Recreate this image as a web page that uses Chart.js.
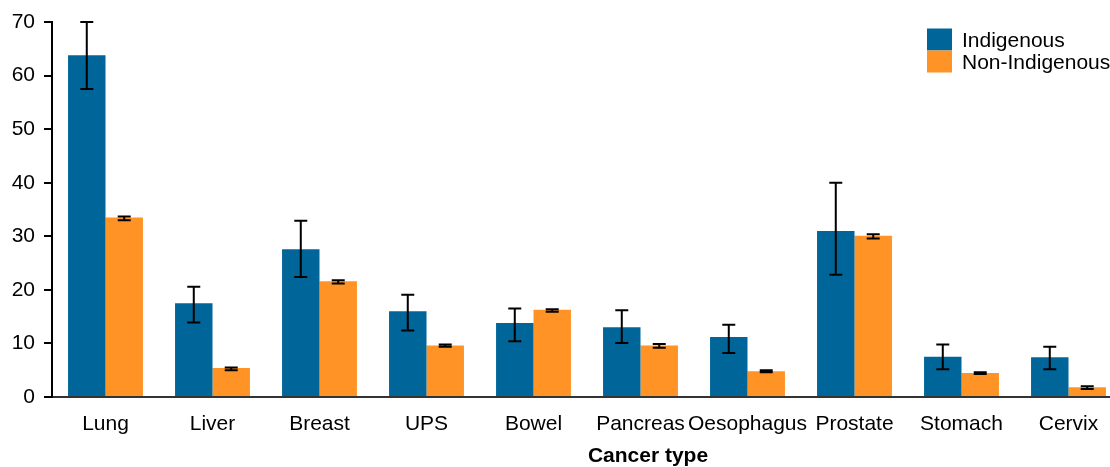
<!DOCTYPE html>
<html>
<head>
<meta charset="utf-8">
<script src="https://cdn.jsdelivr.net/npm/chart.js@4"></script>
<style>
  html, body { margin: 0; padding: 0; overflow: hidden; background: #fff; }
  #wrap { width: 1125px; height: 467px; position: relative; }
</style>
</head>
<body>
<div id="wrap"><canvas id="c"></canvas></div>
<script>
const categories = ['Lung','Liver','Breast','UPS','Bowel','Pancreas','Oesophagus','Prostate','Stomach','Cervix'];
const seriesNames = ['Indigenous','Non-Indigenous'];
const indigenous     = [63.8, 17.5, 27.6, 16.0, 13.8, 13.0, 11.2, 31.0, 7.5, 7.4];
const indigenousLow  = [57.5, 13.9, 22.4, 12.4, 10.4, 10.1,  8.2, 22.8, 5.2, 5.2];
const indigenousHigh = [70.0, 20.6, 32.9, 19.1, 16.5, 16.2, 13.5, 40.0, 9.8, 9.4];
const nonIndigenous     = [33.5, 5.4, 21.6, 9.6, 16.3, 9.6, 4.8, 30.1, 4.5, 1.8];
const nonIndigenousLow  = [33.0, 5.0, 21.2, 9.4, 15.9, 9.2, 4.6, 29.6, 4.3, 1.5];
const nonIndigenousHigh = [33.7, 5.5, 21.8, 9.8, 16.4, 9.9, 5.0, 30.4, 4.6, 2.0];
const yTicks = [0, 10, 20, 30, 40, 50, 60, 70];
const xTitle = 'Cancer type';

const FONT = "'Liberation Sans', Arial, sans-serif";
const BLUE = '#006699';
const ORANGE = '#ff9326';

const errorBars = {
  id: 'errorBars',
  afterDatasetsDraw(chart) {
    const ctx = chart.ctx;
    const y = chart.scales.y;
    const ranges = [[indigenousLow, indigenousHigh], [nonIndigenousLow, nonIndigenousHigh]];
    ctx.save();
    ctx.strokeStyle = '#000';
    ctx.lineWidth = 2;
    chart.data.datasets.forEach((ds, di) => {
      const meta = chart.getDatasetMeta(di);
      meta.data.forEach((el, i) => {
        const x = el.x;
        const lo = y.getPixelForValue(ranges[di][0][i]);
        const hi = y.getPixelForValue(ranges[di][1][i]);
        ctx.beginPath();
        ctx.moveTo(x, lo); ctx.lineTo(x, hi);
        ctx.moveTo(x - 6.5, lo); ctx.lineTo(x + 6.5, lo);
        ctx.moveTo(x - 6.5, hi); ctx.lineTo(x + 6.5, hi);
        ctx.stroke();
      });
    });
    ctx.restore();
  }
};

const extras = {
  id: 'extras',
  afterDraw(chart) {
    const ctx = chart.ctx;
    ctx.save();
    const colors = [BLUE, ORANGE];
    ctx.font = '21px ' + FONT;
    ctx.textBaseline = 'middle';
    ctx.textAlign = 'left';
    seriesNames.forEach((name, i) => {
      ctx.fillStyle = colors[i];
      ctx.fillRect(927, 28.5 + i * 22, 25, 22);
      ctx.fillStyle = '#000';
      ctx.fillText(name, 962, 41 + i * 22);
    });
    ctx.font = 'bold 21px ' + FONT;
    ctx.textAlign = 'center';
    ctx.fillText(xTitle, 648, 456);
    ctx.restore();
  }
};

new Chart(document.getElementById('c'), {
  type: 'bar',
  data: {
    labels: categories,
    datasets: [
      { label: seriesNames[0], data: indigenous, backgroundColor: BLUE, categoryPercentage: 0.7, barPercentage: 1.0 },
      { label: seriesNames[1], data: nonIndigenous, backgroundColor: ORANGE, categoryPercentage: 0.7, barPercentage: 1.0 }
    ]
  },
  options: {
    responsive: true,
    maintainAspectRatio: false,
    animation: false,
    events: [],
    layout: { padding: { top: 22, right: 3, left: 0, bottom: 0 } },
    plugins: { legend: { display: false }, tooltip: { enabled: false } },
    scales: {
      x: {
        grid: { display: false, drawTicks: false },
        border: { display: true, color: '#333', width: 2 },
        ticks: { color: '#000', font: { family: FONT, size: 21 }, padding: 15, maxRotation: 0, autoSkip: false },
        afterFit(s) { s.height = 70; }
      },
      y: {
        min: 0, max: 70,
        afterBuildTicks(s) { s.ticks = yTicks.map(v => ({ value: v })); },
        grid: { drawOnChartArea: false, drawTicks: true, tickLength: 8, color: '#000', lineWidth: 2 },
        border: { display: true, color: '#000', width: 2 },
        ticks: { color: '#000', font: { family: FONT, size: 21 }, padding: 9 },
        afterFit(s) { s.width = 52; }
      }
    }
  },
  plugins: [errorBars, extras]
});
</script>
</body>
</html>
